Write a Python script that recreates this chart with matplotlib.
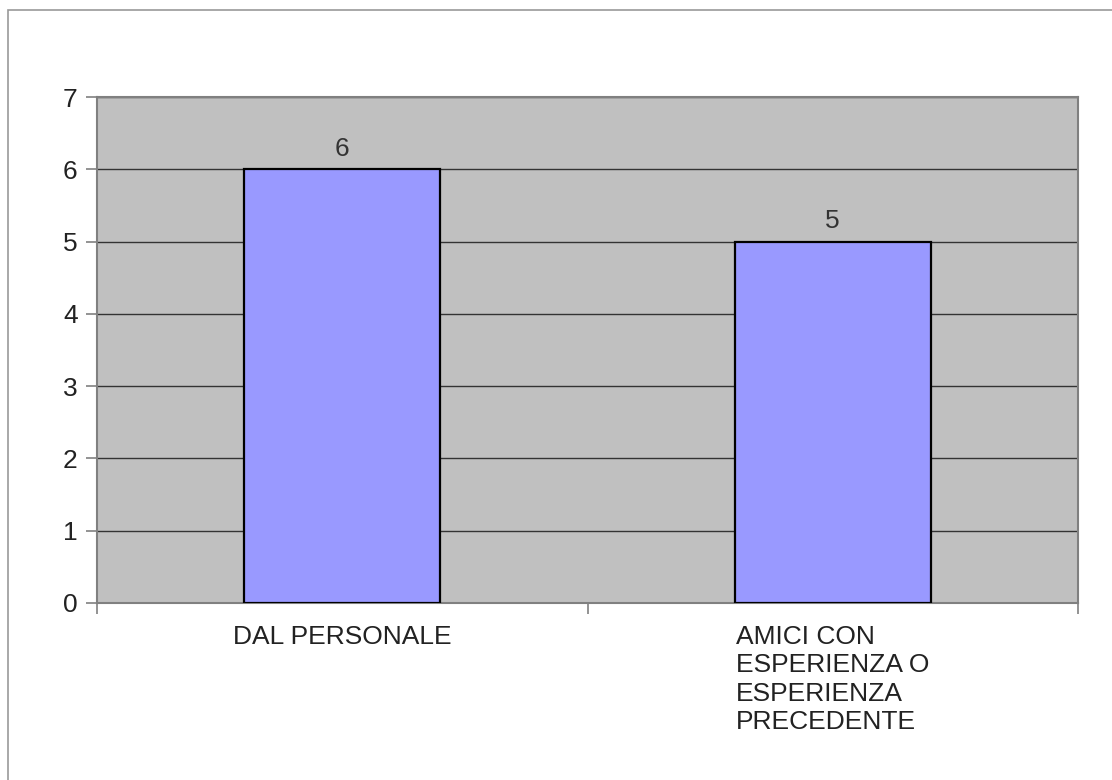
import matplotlib
matplotlib.use("Agg")
import matplotlib.pyplot as plt
from matplotlib.patches import Rectangle

categories = ["DAL PERSONALE", "AMICI CON\nESPERIENZA O\nESPERIENZA\nPRECEDENTE"]
values = [6, 5]
yticks = [0, 1, 2, 3, 4, 5, 6, 7]

plt.rcParams['font.family'] = ['Liberation Sans', 'DejaVu Sans']
FS = 19

fig = plt.figure(figsize=(11.12, 7.8), dpi=100)
W, H = 1112, 780
# outer border
fig.patches.append(Rectangle((8 / W, -0.1), 1.2, 1 - 10 / H + 0.1, transform=fig.transFigure,
                             fill=False, edgecolor='#999999', linewidth=1.2))

ax = fig.add_axes([97 / W, 1 - 603 / H, (1078 - 97) / W, (603 - 97) / H])
ax.set_facecolor('#c0c0c0')

x = list(range(len(categories)))
ax.set_xlim(-0.5, len(categories) - 0.5)
ax.set_ylim(0, 7)
ax.set_yticks(yticks)
ax.yaxis.grid(True, color='#333333', linewidth=1.0)
ax.set_axisbelow(True)

bars = ax.bar(x, values, width=0.4, color='#9999ff', edgecolor='black', linewidth=1.6, zorder=3)
for xi, v in zip(x, values):
    ax.annotate(str(v), (xi, v), xytext=(0, 6), textcoords='offset points',
                ha='center', va='bottom', fontsize=FS, color='#333333')

# x ticks at category boundaries
ax.set_xticks([-0.5 + i for i in range(len(categories) + 1)])
ax.set_xticklabels([])
for xi, lab in zip(x, categories):
    ax.annotate(lab, (xi, 0), xytext=(0, -16), textcoords='offset points',
                ha='center', va='top', multialignment='left', fontsize=FS,
                color='#222222', linespacing=1.22, annotation_clip=False)

for s in ax.spines.values():
    s.set_color('#808080')
    s.set_linewidth(1.5)
ax.tick_params(axis='y', length=8, width=1.2, color='#808080', labelsize=FS, pad=6, labelcolor='#222222')
ax.tick_params(axis='x', length=8, width=1.2, color='#808080')

fig.savefig('out.png', dpi=100)
